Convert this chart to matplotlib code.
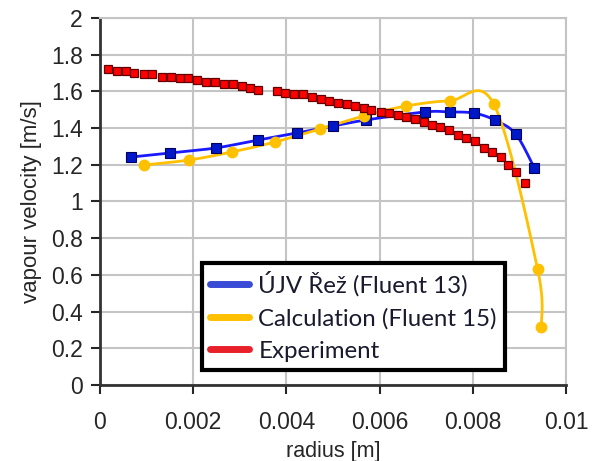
import numpy as np
import matplotlib
matplotlib.use("Agg")
import matplotlib.pyplot as plt
from matplotlib.lines import Line2D

# ÚJV Řež (Fluent 13)
ujv_r = [0.00066, 0.0015, 0.00249, 0.00339, 0.00422, 0.00499, 0.0057,
         0.00697, 0.0075, 0.00802, 0.00847, 0.00892, 0.00932]
ujv_v = [1.242, 1.264, 1.292, 1.335, 1.373, 1.411, 1.444,
         1.488, 1.488, 1.482, 1.444, 1.368, 1.183]

# Calculation (Fluent 15)
calc_r = [0.00094, 0.00191, 0.00283, 0.00375, 0.00472, 0.00566,
          0.00656, 0.0075, 0.00845, 0.00939, 0.00947]
calc_v = [1.199, 1.226, 1.270, 1.324, 1.395, 1.466,
          1.520, 1.548, 1.531, 0.632, 0.316]

# Experiment
exp_r = [0.000165, 0.000358, 0.000551, 0.000735, 0.000937, 0.00112, 0.00132,
         0.00152, 0.00171, 0.00189, 0.00208, 0.00227, 0.00247, 0.00266,
         0.00286, 0.00304, 0.00322, 0.00339, 0.00379, 0.00398, 0.00417,
         0.00436, 0.00456, 0.00475, 0.00492, 0.00511, 0.00529, 0.00547,
         0.00566, 0.00582, 0.00602, 0.00620, 0.00639, 0.00657, 0.00677,
         0.00695, 0.00713, 0.00730, 0.00749, 0.00768, 0.00786, 0.00804,
         0.00823, 0.00841, 0.00860, 0.00876, 0.00892, 0.00913]
exp_v = [1.720, 1.711, 1.711, 1.702, 1.693, 1.693, 1.680, 1.680, 1.671,
         1.671, 1.662, 1.653, 1.653, 1.640, 1.640, 1.631, 1.620, 1.608,
         1.602, 1.593, 1.586, 1.586, 1.571, 1.557, 1.548, 1.538, 1.531,
         1.520, 1.508, 1.499, 1.489, 1.481, 1.471, 1.462, 1.450, 1.435,
         1.417, 1.404, 1.390, 1.365, 1.346, 1.327, 1.292, 1.271, 1.240,
         1.199, 1.163, 1.101]

x_ticks = [0, 0.002, 0.004, 0.006, 0.008, 0.01]
x_labels = ["0", "0.002", "0.004", "0.006", "0.008", "0.01"]
y_ticks = [0, 0.2, 0.4, 0.6, 0.8, 1.0, 1.2, 1.4, 1.6, 1.8, 2.0]
y_labels = ["0", "0.2", "0.4", "0.6", "0.8", "1", "1.2", "1.4", "1.6", "1.8", "2"]


def smooth(x, y, sx=46650.0, sy=183.5, n=30):
    """Excel-like smoothed line (Catmull-Rom Bezier in screen space)."""
    p = np.column_stack([np.asarray(x) * sx, np.asarray(y) * sy])
    p = np.vstack([p[0], p, p[-1]])
    out = []
    for i in range(1, len(p) - 2):
        p0, p1, p2, p3 = p[i - 1], p[i], p[i + 1], p[i + 2]
        c1 = p1 + (p2 - p0) / 6
        c2 = p2 - (p3 - p1) / 6
        t = np.linspace(0, 1, n)[:, None]
        seg = ((1 - t) ** 3 * p1 + 3 * (1 - t) ** 2 * t * c1
               + 3 * (1 - t) * t ** 2 * c2 + t ** 3 * p2)
        out.append(seg)
    out = np.vstack(out)
    return out[:, 0] / sx, out[:, 1] / sy


plt.rcParams['font.family'] = ['Liberation Sans', 'DejaVu Sans']

fig = plt.figure(figsize=(5.94, 4.61), dpi=100)
ax = fig.add_axes([100 / 594, 76 / 461, 466 / 594, 367 / 461])

bx, by = smooth(ujv_r, ujv_v)
ax.plot(bx, by, color='#1a1aff', lw=2.0, zorder=3)
ax.plot(ujv_r, ujv_v, ls='none', marker='s', ms=6.5, color='#0018c8',
        mec='#000060', mew=0.8, zorder=4)

cx, cy = smooth(calc_r, calc_v)
ax.plot(cx, cy, color='#ffc000', lw=2.0, zorder=3)
ax.plot(calc_r, calc_v, ls='none', marker='o', ms=7.5, color='#ffc000',
        mec='#ffc000', zorder=4)

ax.plot(exp_r, exp_v, ls='none', marker='s', ms=6.0, color='#ff0000',
        mec='#600000', mew=0.9, zorder=5)

ax.set_xlim(0, 0.01)
ax.set_ylim(0, 2)
ax.set_xticks(x_ticks)
ax.set_xticklabels(x_labels)
ax.set_yticks(y_ticks)
ax.set_yticklabels(y_labels)
ax.grid(True, color='#c4c4c4', lw=1.5)
ax.set_axisbelow(True)
ax.tick_params(axis='both', labelsize=16.5, colors='#262626', length=6.5,
               width=1.5, pad=6)
ax.tick_params(axis='x', pad=12)
for side in ['left', 'bottom']:
    ax.spines[side].set_color('#333333')
    ax.spines[side].set_linewidth(2)
for side in ['top', 'right']:
    ax.spines[side].set_color('#c4c4c4')
    ax.spines[side].set_linewidth(1.5)

ax.set_xlabel('radius [m]', fontsize=15.5, color='#262626', labelpad=5)
ax.set_ylabel('vapour velocity [m/s]', fontsize=16, color='#262626', labelpad=6)

handles = [
    Line2D([], [], color='#3a4bd6', lw=5, solid_capstyle='round'),
    Line2D([], [], color='#ffc000', lw=5, solid_capstyle='round'),
    Line2D([], [], color='#e8202a', lw=5, solid_capstyle='round'),
]
leg = ax.legend(handles, ['ÚJV Řež (Fluent 13)', 'Calculation (Fluent 15)', 'Experiment'],
                loc='lower left', bbox_to_anchor=(102 / 466, 15 / 367),
                prop={'family': ['Lato', 'DejaVu Sans'], 'size': 17.3},
                frameon=True, fancybox=False, framealpha=1, handlelength=1.6,
                handletextpad=0.4, labelspacing=0.47, borderpad=0.35,
                borderaxespad=0)
leg.get_frame().set_edgecolor('black')
leg.get_frame().set_linewidth(3)
for t in leg.get_texts():
    t.set_color('#1a1a2e')
leg.set_zorder(10)

fig.savefig('out.png', dpi=100)
